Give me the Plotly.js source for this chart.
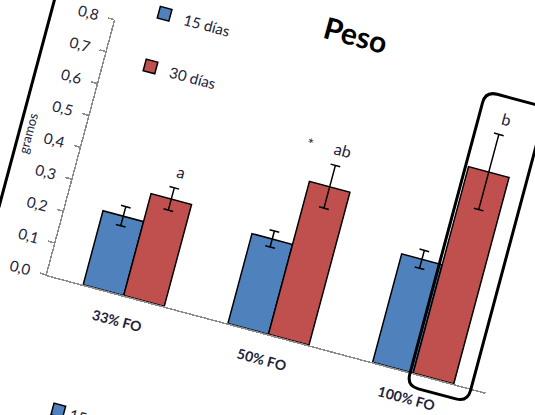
<!DOCTYPE html>
<html>
<head>
<meta charset="utf-8">
<script src="https://cdn.plot.ly/plotly-3.0.1.min.js"></script>
<style>
  html, body { margin: 0; padding: 0; background: #fff; overflow: hidden; width: 535px; height: 415px; }
  #chart { position: absolute; }
</style>
</head>
<body>
<div id="chart"></div>
<script>
// Peso (gramos) por tratamiento, 15 y 30 días
const categories = ['33% FO', '50% FO', '100% FO'];
const seriesNames = ['15 días', '30 días'];
const peso15 = [0.232, 0.282, 0.340];
const peso30 = [0.320, 0.480, 0.648];
const err15 = [0.030, 0.025, 0.028];
const err30 = [0.035, 0.067, 0.118];
const letters30 = ['a', 'ab', 'b'];
const yTickVals = [0, 0.1, 0.2, 0.3, 0.4, 0.5, 0.6, 0.7, 0.8];
const yTickText = ['0,0', '0,1', '0,2', '0,3', '0,4', '0,5', '0,6', '0,7', '0,8'];

// geometry of the (unrotated) figure
const M = { l: 120, r: 60, t: 120, b: 160 };
const PW = 454, PH = 264;
const W = M.l + PW + M.r, H = M.t + PH + M.b;
const XR = [-0.53, 2.5], YR = [0, 0.8];
const ANGLE = 15;            // the whole sheet is photographed tilted
const ORIGIN = [47, 275];    // where the axes origin lands on screen
const BARGAP = 0.44;
const half = (1 - BARGAP) / 4;

const el = document.getElementById('chart');
el.style.width = W + 'px';
el.style.height = H + 'px';
el.style.left = (ORIGIN[0] - M.l) + 'px';
el.style.top = (ORIGIN[1] - (M.t + PH)) + 'px';
el.style.transformOrigin = M.l + 'px ' + (M.t + PH) + 'px';
el.style.transform = 'rotate(' + ANGLE + 'deg)';

const px = v => (v - XR[0]) / (XR[1] - XR[0]);
const py = v => (v - YR[0]) / (YR[1] - YR[0]);
const FONT = 'Lato, "Open Sans", sans-serif';
const INK = '#23233a';

const blue = '#4F81BD', red = '#C0504D';

const traces = [
  {
    type: 'bar', name: seriesNames[0], x: categories, y: peso15,
    legendgroup: 'g15',
    marker: { color: blue, line: { color: '#000', width: 1.5 } },
    error_y: { type: 'data', array: err15, visible: true, color: '#000', thickness: 1.5, width: 5 }
  },
  {
    type: 'bar', name: seriesNames[1], x: categories, y: peso30,
    legendgroup: 'g30',
    marker: { color: red, line: { color: '#000', width: 1.5 } },
    error_y: { type: 'data', array: err30, visible: true, color: '#000', thickness: 1.5, width: 5 }
  }
];

// significance letters above the 30-day bars (paper y so they may sit above the axis top)
const annotations = letters30.map((t, i) => ({
  text: t, x: i + half + 0.02, y: py(peso30[i] + err30[i] + 0.052),
  xref: 'x', yref: 'paper', xanchor: 'center', yanchor: 'middle', showarrow: false,
  font: { family: FONT, size: 16, color: INK }
}));
annotations.push({
  text: '*', x: 1 - 0.065, y: py(peso30[1] + err30[1] + 0.045),
  xref: 'x', yref: 'paper', xanchor: 'center', yanchor: 'middle', showarrow: false,
  font: { family: FONT, size: 15, color: INK }
});
// legend of the next chart on the sheet
annotations.push({
  text: seriesNames[0], x: 56 / PW + px(-0.53), y: -128 / PH,
  xref: 'paper', yref: 'paper', xanchor: 'left', yanchor: 'middle', showarrow: false,
  font: { family: FONT, size: 15, color: INK }
});

// rounded frame around the 100% FO / 30 días bar
const fx0 = px(2 - 0.02), fx1 = px(2 + 0.40);
const fy0 = py(-0.042), fy1 = py(0.882);
const rx = 12 / PW, ry = 12 / PH;
const framePath =
  `M ${fx0 + rx},${fy1} L ${fx1 - rx},${fy1} Q ${fx1},${fy1} ${fx1},${fy1 - ry} ` +
  `L ${fx1},${fy0 + ry} Q ${fx1},${fy0} ${fx1 - rx},${fy0} ` +
  `L ${fx0 + rx},${fy0} Q ${fx0},${fy0} ${fx0},${fy0 + ry} ` +
  `L ${fx0},${fy1 - ry} Q ${fx0},${fy1} ${fx0 + rx},${fy1} Z`;

const shapes = [
  { type: 'path', path: framePath, xref: 'paper', yref: 'paper',
    line: { color: '#000', width: 3 }, fillcolor: 'rgba(0,0,0,0)' },
  // edge of the sheet
  { type: 'line', xref: 'paper', yref: 'paper',
    x0: -64 / PW, x1: -64 / PW, y0: 0.2, y1: 1.3,
    line: { color: '#000', width: 3 } },
  // legend swatch of the next chart
  { type: 'rect', xref: 'paper', yref: 'paper',
    x0: 40 / PW, x1: 52 / PW, y0: -134 / PH, y1: -122 / PH,
    fillcolor: blue, line: { color: '#000', width: 1.5 } }
];

const layout = {
  width: W, height: H,
  margin: M,
  paper_bgcolor: 'rgba(0,0,0,0)', plot_bgcolor: 'rgba(0,0,0,0)',
  barmode: 'group', bargap: BARGAP, bargroupgap: 0,
  font: { family: FONT, color: INK },
  title: {
    text: 'Peso', x: 236 / PW, xref: 'paper', xanchor: 'center',
    y: 1 - (M.t + PH - 311) / H, yref: 'container', yanchor: 'middle',
    font: { family: FONT, size: 30, weight: 700, color: '#000' }
  },
  showlegend: true,
  legend: {
    x: 26 / PW, xanchor: 'left', y: 1 + 35 / PH, yanchor: 'top',
    bgcolor: 'rgba(0,0,0,0)', tracegroupgap: 32,
    font: { family: FONT, size: 15, color: INK }
  },
  xaxis: {
    type: 'category', range: XR, showgrid: false, zeroline: false,
    showline: true, linecolor: '#8c8c8c', linewidth: 1.5,
    ticks: '', ticklabelstandoff: 13,
    tickfont: { family: FONT, size: 14, weight: 700, color: INK }
  },
  yaxis: {
    range: YR, showgrid: false, zeroline: false,
    showline: true, linecolor: '#8c8c8c', linewidth: 1.5,
    ticks: 'outside', ticklen: 6, tickwidth: 1.5, tickcolor: '#8c8c8c',
    tickvals: yTickVals, ticktext: yTickText, ticklabelstandoff: 7,
    tickfont: { family: FONT, size: 15, color: INK },
    automargin: true,
    title: { text: 'gramos', standoff: 8, font: { family: FONT, size: 13, color: INK } }
  },
  annotations: annotations,
  shapes: shapes
};

Plotly.newPlot(el, traces, layout, { staticPlot: true, displayModeBar: false });
</script>
</body>
</html>
